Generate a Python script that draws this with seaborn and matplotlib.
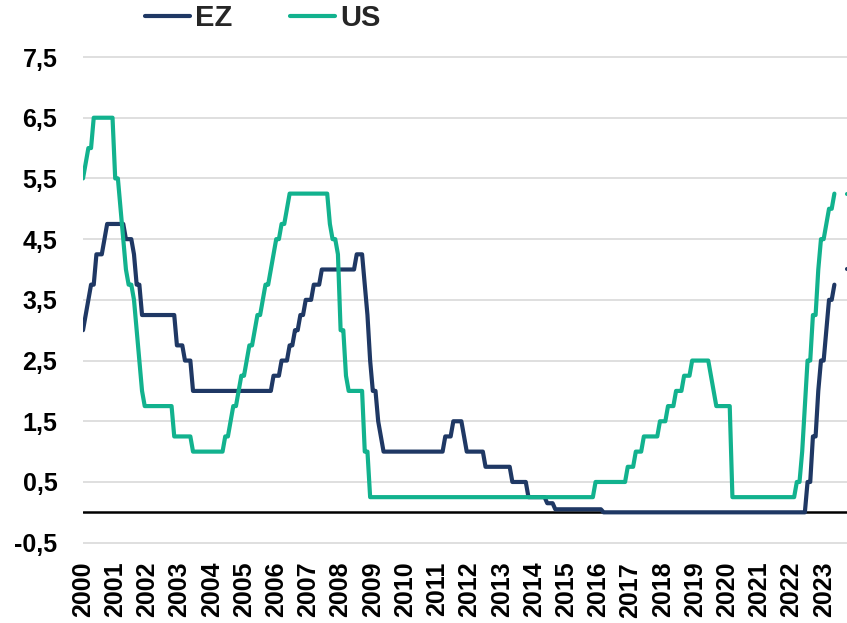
import numpy as np
import pandas as pd
import matplotlib
matplotlib.use("Agg")
import matplotlib.pyplot as plt
from matplotlib.ticker import FuncFormatter
import seaborn as sns

# ---------------- data (month-end policy rates, Jan 2000 - May 2023) ----------------
series_names = ["EZ", "US"]
colors = ["#1F3864", "#12B28E"]

us = (
    [5.5, 5.75, 6.0, 6.0, 6.5, 6.5, 6.5, 6.5, 6.5, 6.5, 6.5, 6.5] +          # 2000
    [5.5, 5.5, 5.0, 4.5, 4.0, 3.75, 3.75, 3.5, 3.0, 2.5, 2.0, 1.75] +        # 2001
    [1.75, 1.75, 1.75, 1.75, 1.75, 1.75, 1.75, 1.75, 1.75, 1.75, 1.25, 1.25] +  # 2002
    [1.25, 1.25, 1.25, 1.25, 1.25, 1.0, 1.0, 1.0, 1.0, 1.0, 1.0, 1.0] +      # 2003
    [1.0, 1.0, 1.0, 1.0, 1.0, 1.25, 1.25, 1.5, 1.75, 1.75, 2.0, 2.25] +      # 2004
    [2.25, 2.5, 2.75, 2.75, 3.0, 3.25, 3.25, 3.5, 3.75, 3.75, 4.0, 4.25] +   # 2005
    [4.5, 4.5, 4.75, 4.75, 5.0, 5.25, 5.25, 5.25, 5.25, 5.25, 5.25, 5.25] +  # 2006
    [5.25, 5.25, 5.25, 5.25, 5.25, 5.25, 5.25, 5.25, 4.75, 4.5, 4.5, 4.25] + # 2007
    [3.0, 3.0, 2.25, 2.0, 2.0, 2.0, 2.0, 2.0, 2.0, 1.0, 1.0, 0.25] +         # 2008
    [0.25, 0.25, 0.25, 0.25, 0.25, 0.25, 0.25, 0.25, 0.25, 0.25, 0.25, 0.25] +  # 2009
    [0.25, 0.25, 0.25, 0.25, 0.25, 0.25, 0.25, 0.25, 0.25, 0.25, 0.25, 0.25] +  # 2010
    [0.25, 0.25, 0.25, 0.25, 0.25, 0.25, 0.25, 0.25, 0.25, 0.25, 0.25, 0.25] +  # 2011
    [0.25, 0.25, 0.25, 0.25, 0.25, 0.25, 0.25, 0.25, 0.25, 0.25, 0.25, 0.25] +  # 2012
    [0.25, 0.25, 0.25, 0.25, 0.25, 0.25, 0.25, 0.25, 0.25, 0.25, 0.25, 0.25] +  # 2013
    [0.25, 0.25, 0.25, 0.25, 0.25, 0.25, 0.25, 0.25, 0.25, 0.25, 0.25, 0.25] +  # 2014
    [0.25, 0.25, 0.25, 0.25, 0.25, 0.25, 0.25, 0.25, 0.25, 0.25, 0.25, 0.5] +   # 2015
    [0.5, 0.5, 0.5, 0.5, 0.5, 0.5, 0.5, 0.5, 0.5, 0.5, 0.5, 0.75] +          # 2016
    [0.75, 0.75, 1.0, 1.0, 1.0, 1.25, 1.25, 1.25, 1.25, 1.25, 1.25, 1.5] +   # 2017
    [1.5, 1.5, 1.75, 1.75, 1.75, 2.0, 2.0, 2.0, 2.25, 2.25, 2.25, 2.5] +     # 2018
    [2.5, 2.5, 2.5, 2.5, 2.5, 2.5, 2.25, 2.0, 1.75, 1.75, 1.75, 1.75] +      # 2019
    [1.75, 1.75, 0.25, 0.25, 0.25, 0.25, 0.25, 0.25, 0.25, 0.25, 0.25, 0.25] +  # 2020
    [0.25, 0.25, 0.25, 0.25, 0.25, 0.25, 0.25, 0.25, 0.25, 0.25, 0.25, 0.25] +  # 2021
    [0.25, 0.25, 0.5, 0.5, 1.0, 1.75, 2.5, 2.5, 3.25, 3.25, 4.0, 4.5] +      # 2022
    [4.5, 4.75, 5.0, 5.0, 5.25]                                              # 2023
)

ez = (
    [3.0, 3.25, 3.5, 3.75, 3.75, 4.25, 4.25, 4.25, 4.5, 4.75, 4.75, 4.75] +  # 2000
    [4.75, 4.75, 4.75, 4.75, 4.5, 4.5, 4.5, 4.25, 3.75, 3.75, 3.25, 3.25] +  # 2001
    [3.25, 3.25, 3.25, 3.25, 3.25, 3.25, 3.25, 3.25, 3.25, 3.25, 3.25, 2.75] +  # 2002
    [2.75, 2.75, 2.5, 2.5, 2.5, 2.0, 2.0, 2.0, 2.0, 2.0, 2.0, 2.0] +         # 2003
    [2.0, 2.0, 2.0, 2.0, 2.0, 2.0, 2.0, 2.0, 2.0, 2.0, 2.0, 2.0] +           # 2004
    [2.0, 2.0, 2.0, 2.0, 2.0, 2.0, 2.0, 2.0, 2.0, 2.0, 2.0, 2.25] +          # 2005
    [2.25, 2.25, 2.5, 2.5, 2.5, 2.75, 2.75, 3.0, 3.0, 3.25, 3.25, 3.5] +     # 2006
    [3.5, 3.5, 3.75, 3.75, 3.75, 4.0, 4.0, 4.0, 4.0, 4.0, 4.0, 4.0] +        # 2007
    [4.0, 4.0, 4.0, 4.0, 4.0, 4.0, 4.25, 4.25, 4.25, 3.75, 3.25, 2.5] +      # 2008
    [2.0, 2.0, 1.5, 1.25, 1.0, 1.0, 1.0, 1.0, 1.0, 1.0, 1.0, 1.0] +          # 2009
    [1.0, 1.0, 1.0, 1.0, 1.0, 1.0, 1.0, 1.0, 1.0, 1.0, 1.0, 1.0] +           # 2010
    [1.0, 1.0, 1.0, 1.25, 1.25, 1.25, 1.5, 1.5, 1.5, 1.5, 1.25, 1.0] +       # 2011
    [1.0, 1.0, 1.0, 1.0, 1.0, 1.0, 0.75, 0.75, 0.75, 0.75, 0.75, 0.75] +     # 2012
    [0.75, 0.75, 0.75, 0.75, 0.5, 0.5, 0.5, 0.5, 0.5, 0.5, 0.25, 0.25] +     # 2013
    [0.25, 0.25, 0.25, 0.25, 0.25, 0.15, 0.15, 0.15, 0.05, 0.05, 0.05, 0.05] +  # 2014
    [0.05, 0.05, 0.05, 0.05, 0.05, 0.05, 0.05, 0.05, 0.05, 0.05, 0.05, 0.05] +  # 2015
    [0.05, 0.05, 0.0, 0.0, 0.0, 0.0, 0.0, 0.0, 0.0, 0.0, 0.0, 0.0] +         # 2016
    [0.0, 0.0, 0.0, 0.0, 0.0, 0.0, 0.0, 0.0, 0.0, 0.0, 0.0, 0.0] +           # 2017
    [0.0, 0.0, 0.0, 0.0, 0.0, 0.0, 0.0, 0.0, 0.0, 0.0, 0.0, 0.0] +           # 2018
    [0.0, 0.0, 0.0, 0.0, 0.0, 0.0, 0.0, 0.0, 0.0, 0.0, 0.0, 0.0] +           # 2019
    [0.0, 0.0, 0.0, 0.0, 0.0, 0.0, 0.0, 0.0, 0.0, 0.0, 0.0, 0.0] +           # 2020
    [0.0, 0.0, 0.0, 0.0, 0.0, 0.0, 0.0, 0.0, 0.0, 0.0, 0.0, 0.0] +           # 2021
    [0.0, 0.0, 0.0, 0.0, 0.0, 0.0, 0.5, 0.5, 1.25, 1.25, 2.0, 2.5] +         # 2022
    [2.5, 3.0, 3.5, 3.5, 3.75]                                               # 2023
)

# short segment visible at the right edge, after a gap
tail_months = [284.6, 288]
us_tail = [5.25, 5.25]
ez_tail = [4.0, 4.0]

year_labels = [str(y) for y in range(2000, 2024)]
y_ticks = [-0.5, 0.5, 1.5, 2.5, 3.5, 4.5, 5.5, 6.5, 7.5]

# ---------------- build table ----------------
months = list(range(len(us)))
frames = []
for name, vals, tail in [("EZ", ez, ez_tail), ("US", us, us_tail)]:
    frames.append(pd.DataFrame({"month": months, "rate": vals, "series": name, "seg": name + "_main"}))
    frames.append(pd.DataFrame({"month": tail_months, "rate": tail, "series": name, "seg": name + "_tail"}))
df = pd.concat(frames, ignore_index=True)

# ---------------- style ----------------
sns.set_theme(style="white")
plt.rcParams["font.family"] = ["Liberation Sans", "DejaVu Sans"]
plt.rcParams["font.weight"] = "bold"

W, H = 847, 623
fig = plt.figure(figsize=(W / 100, H / 100), dpi=100)
ax = fig.add_axes([83 / W, 0.126, 1 - 83 / W, 0.7854])

ax.set_axisbelow(True)
ax.grid(axis="y", color="#D9D9D9", linewidth=1.2)
ax.grid(axis="x", visible=False)
ax.axhline(0, color="black", linewidth=1.8, zorder=1.5)

sns.lineplot(
    data=df, x="month", y="rate", hue="series", hue_order=series_names,
    units="seg", estimator=None, palette=colors, linewidth=3.0,
    solid_capstyle="round", solid_joinstyle="round", ax=ax, zorder=2,
)

ax.set_xlim(0, 284.7)
ax.set_ylim(-0.53, 7.53)
ax.set_yticks(y_ticks)
ax.yaxis.set_major_formatter(FuncFormatter(lambda v, p: f"{v:.1f}".replace(".", ",")))
ax.set_xticks([12 * i for i in range(len(year_labels))])
ax.set_xticklabels(year_labels)
ax.tick_params(axis="y", length=0, pad=18.5, labelsize=18, labelcolor="black")
ax.tick_params(axis="x", length=0, pad=12.5, labelsize=18, labelrotation=90, labelcolor="black")
for lbl in ax.get_xticklabels() + ax.get_yticklabels():
    lbl.set_fontweight("bold")
ax.set_xlabel("")
ax.set_ylabel("")
for s in ax.spines.values():
    s.set_visible(False)

handles, labels = ax.get_legend_handles_labels()
ax.get_legend().remove()
for h in handles:
    h.set_linewidth(3.0)
    h.set_solid_capstyle("round")
fig.legend(handles, labels, loc="center", bbox_to_anchor=(0.31, 0.971), ncol=2,
           frameon=False, prop={"weight": "bold", "size": 21},
           handlelength=1.57, handletextpad=0.17, columnspacing=1.95)

fig.savefig("out.png", dpi=100)
